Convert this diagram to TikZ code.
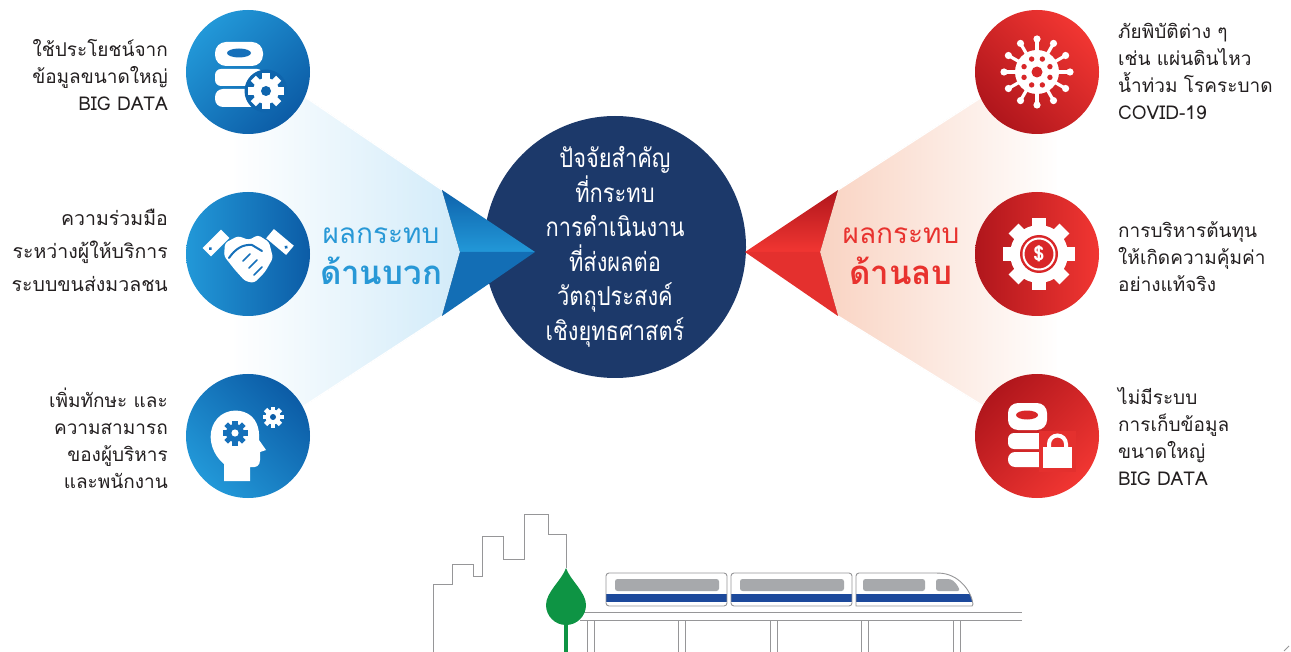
\documentclass[tikz,border=0pt]{standalone}
\usepackage{fontspec}
\setmainfont{Loma}[Script=Thai]
\newfontfamily\hubfont{Loma}[Script=Thai, FakeStretch=0.84]
\definecolor{navy}{RGB}{28,57,106}
\definecolor{blueA}{RGB}{34,152,216}
\definecolor{blueB}{RGB}{12,92,166}
\definecolor{blueHole}{RGB}{22,112,186}
\definecolor{redA}{RGB}{241,54,50}
\definecolor{redB}{RGB}{176,22,28}
\definecolor{redHole}{RGB}{216,38,40}
\definecolor{ink}{RGB}{35,31,32}
\definecolor{paleBlue}{RGB}{210,235,249}
\definecolor{paleRed}{RGB}{249,211,194}
\definecolor{tagBlue}{RGB}{40,152,214}
\definecolor{tagRed}{RGB}{232,50,46}
\definecolor{railGray}{RGB}{150,150,152}
\definecolor{winGray}{RGB}{167,169,172}
\definecolor{stripe}{RGB}{28,73,155}
\definecolor{leaf}{RGB}{14,148,68}
\tikzset{
  icon/.style={circle, minimum size=124pt, inner sep=0pt},
  blueicon/.style={icon, left color=blueA, right color=blueB, shading angle=#1},
  redicon/.style={icon, left color=redB, right color=redA, shading angle=#1},
  side/.style={font=\fontsize{19}{27}\selectfont, text=ink, inner sep=0pt},
  sideL/.style={side, anchor=east, align=right},
  sideR/.style={side, anchor=west, align=left},
  tag/.style={inner sep=0pt, font=\fontsize{28}{30}\selectfont},
  tagbold/.style={inner sep=0pt, font=\fontsize{33}{35}\selectfont\bfseries},
  rail/.style={draw=railGray, line width=0.9pt},
  seam/.style={draw=white, line width=1.3pt},
  pics/cog/.style n args={4}{code={
    \fill (0,0) circle (#2);
    \foreach \k in {1,...,#1}{\fill[rotate=\k*360/#1] (-#4,0) rectangle (#4,#3);}
  }}
}
\begin{document}
\begin{tikzpicture}[x=1pt,y=-1pt]
\useasboundingbox (0,0) rectangle (1291,652);

% pale funnels behind the arrow heads
\fill[left color=white, middle color=paleBlue!55!white, right color=paleBlue]
  (230,46) -- (442,190) -- (460,252) -- (442,316) -- (230,454) -- cycle;
\fill[left color=paleRed, middle color=paleRed!55!white, right color=white]
  (838,190) -- (1061,46) -- (1061,454) -- (838,316) -- (820,252) -- cycle;
% soften the outer edges of the funnels
\path[seam] (230,46) -- (442,190) (442,316) -- (230,454);
\path[seam] (838,190) -- (1061,46) (838,316) -- (1061,454);
% the faded ends of the funnels sit under the icon columns
\fill[white] (180,20) rectangle (234,480);
\fill[white] (1057,20) rectangle (1110,480);

% central hub
\node[circle, fill=navy, minimum size=262pt, inner sep=0pt] (hub) at (615,247) {};
\node[font=\hubfont\fontsize{26}{34.5}\selectfont, text=white, align=center, inner sep=0pt]
  (hubtext) at (615,247) {ปัจจัยสำคัญ\\ที่กระทบ\\การดำเนินงาน\\ที่ส่งผลต่อ\\วัตถุประสงค์\\เชิงยุทธศาสตร์};

% arrow heads
\shade[top color=blueB!90!blueA, bottom color=blueA] (442,190) -- (535,252) -- (460,252) -- cycle;
\fill[blueB!70!blueA] (460,252) -- (535,252) -- (442,316) -- cycle;
\shade[top color=redB, bottom color=redA] (838,190) -- (745,252) -- (820,252) -- cycle;
\fill[redA!80!redB] (820,252) -- (745,252) -- (838,316) -- cycle;

% tags
\node[tag, text=tagBlue] (posA) at (381,236) {ผลกระทบ};
\node[tagbold, text=tagBlue] (posB) at (381,271) {ด้านบวก};
\node[tag, text=tagRed] (negA) at (901,236) {ผลกระทบ};
\node[tagbold, text=tagRed] (negB) at (901,271) {ด้านลบ};

% icon discs
\node[blueicon=45] (b1) at (248,72) {};
\node[blueicon=90] (b2) at (248,254) {};
\node[blueicon=135] (b3) at (248,436) {};
\node[redicon=135] (r1) at (1037,72) {};
\node[redicon=90] (r2) at (1037,254) {};
\node[redicon=45] (r3) at (1037,436) {};

% --- database with cog
\fill[white, rounded corners=11] (215,42) rectangle (263,66);
\fill[blueHole] (239,53) ellipse (12 and 4.5);
\fill[white, rounded corners=6] (215,69) rectangle (263,86);
\fill[white, rounded corners=8] (215,89) rectangle (263,107);
\fill[blueB!85!blueA] (266,91) circle (21.5);
\pic[fill=white] at (266,91) {cog={8}{13}{18}{3.6}};
\fill[blueB!85!blueA] (266,91) circle (5);

% --- handshake
\fill[white, shift={(216,243)}, rotate=45] (-13,-6) rectangle (13,6);
\fill[blueHole, shift={(216,243)}, rotate=45] (-8,0) circle (1.9);
\fill[white, shift={(280,242)}, rotate=-40] (-13,-6) rectangle (13,6);
\fill[blueHole, shift={(280,242)}, rotate=-40] (8,0) circle (1.9);
\fill[white, rounded corners=3]
  (225,243) -- (238,236) -- (249,240) -- (258,235) -- (269,242) -- (273,258)
  -- (265,272) -- (254,283) -- (245,281) -- (235,270) -- (224,256) -- cycle;
\draw[blueHole, line width=2pt, line cap=round]
  (229,258) .. controls (235,249) and (243,244) .. (252,245) -- (262,251);
\draw[blueHole, line width=1.5pt, line cap=round]
  (249,268) -- (257,260) (254,275) -- (262,267) (243,261) -- (250,254);

% --- head with cogs
\fill[white] (224,481) -- (224,464) .. controls (213,455) and (208,440) .. (212,428)
  .. controls (217,412) and (233,408) .. (244,412) .. controls (256,416) and (260,428) .. (259,440)
  -- (266,450) -- (260,452) -- (260,460) .. controls (260,466) and (256,468) .. (250,467)
  -- (250,481) -- cycle;
\pic[fill=blueHole] at (235,433) {cog={8}{9}{12.5}{2.6}};
\fill[white] (235,433) circle (3.6);
\pic[fill=white] at (273,417) {cog={8}{7.5}{10.5}{2.3}};
\fill[blueB] (273,417) circle (3);

% --- virus
\fill[white] (1037,72) circle (22);
\foreach \a in {0,30,...,330}{
  \draw[white, line width=3.2pt] (1037,72) ++(\a:20) -- ++(\a:13);
  \fill[white] (1037,72) ++(\a:33) circle (3.6);
}
\fill[redHole] (1037,72) circle (5.5);
\foreach \a in {22.5,67.5,...,337.5}{
  \fill[redHole] (1037,72) ++(\a:14) circle (2.7);
}

% --- cog with dollar
\pic[fill=white] at (1039,254) {cog={8}{29}{36}{7}};
\fill[redHole] (1039,254) circle (19);
\draw[white, line width=2pt] (1039,254) circle (15.5);
\node[text=white, font=\fontsize{20}{20}\selectfont\bfseries, inner sep=0pt] (cash) at (1039,254) {\$};

% --- database with lock
\fill[white, rounded corners=10] (1008,403) rectangle (1047,430);
\fill[redHole] (1027,415) ellipse (11 and 4.5);
\fill[white, rounded corners=6] (1008,433) rectangle (1047,449);
\fill[white, rounded corners=7] (1008,452) rectangle (1047,467);
\fill[redA!80!redB] (1039,431) rectangle (1076,472);
\draw[white, line width=4pt] (1049,448) -- (1049,444) arc[start angle=180, end angle=360, radius=8.5] -- (1066,448);
\fill[white] (1043,447) rectangle (1072,468);

% side texts
\node[sideL] (t1) at (168,75) {ใช้ประโยชน์จาก\\ข้อมูลขนาดใหญ่\\BIG DATA};
\node[sideL, font=\fontsize{19.5}{33}\selectfont] (t2) at (168,250) {ความร่วมมือ\\ระหว่างผู้ให้บริการ\\ระบบขนส่งมวลชน};
\node[sideL] (t3) at (168,438) {เพิ่มทักษะ และ\\ความสามารถ\\ของผู้บริหาร\\และพนักงาน};
\node[sideR] (t4) at (1118,71) {ภัยพิบัติต่าง ๆ\\เช่น แผ่นดินไหว\\น้ำท่วม โรคระบาด\\COVID-19};
\node[sideR] (t5) at (1118,257) {การบริหารต้นทุน\\ให้เกิดความคุ้มค่า\\อย่างแท้จริง};
\node[sideR] (t6) at (1118,437) {ไม่มีระบบ\\การเก็บข้อมูล\\ขนาดใหญ่\\BIG DATA};

% skyline
\draw[rail] (433,652) -- (433,584) -- (452,584) -- (452,564) -- (473,564) -- (473,576)
  -- (482,576) -- (482,536) -- (503,536) -- (503,559) -- (524,559) -- (524,514)
  -- (548,514) -- (548,534) -- (566,534) -- (566,568);

% viaduct
\draw[rail] (580,612) -- (1022,612) (580,620) -- (1022,620);
\foreach \p in {587,678.5,770,861.5,953}{
  \draw[rail] (\p,620) -- (\p,652) (\p+7,620) -- (\p+7,652);
}

% tree
\fill[leaf] (566,568) .. controls (570,580) and (586,592) .. (586,605)
  arc[start angle=0, end angle=180, radius=20] .. controls (546,592) and (562,580) .. (566,568) -- cycle;
\draw[leaf, line width=4pt] (566,622) -- (566,652);

% train
\foreach \l/\r in {606/727,731/852}{
  \fill[white, rounded corners=3] (\l,573) rectangle (\r,606);
  \fill[winGray, rounded corners=2.5] (\l+9,579) rectangle (\r-8,591);
  \fill[stripe] (\l,594) rectangle (\r,602);
  \draw[rail, rounded corners=3] (\l,573) rectangle (\r,606);
}
\fill[white, rounded corners=3] (856,606) -- (856,573) -- (937,573) [sharp corners]
  .. controls (958,574) and (971,590) .. (973,604) -- (972,606) -- cycle;
\fill[winGray, rounded corners=2.5] (863,579) rectangle (925,591);
\fill[winGray, rounded corners=2.5] (936,579) -- (948,579) .. controls (954,580) and (958,586) .. (960,591) -- (936,591) -- cycle;
\begin{scope}
  \clip (856,606) -- (856,573) -- (937,573) .. controls (958,574) and (971,590) .. (973,604) -- (972,606) -- cycle;
  \fill[stripe] (856,594) rectangle (980,602);
\end{scope}
\draw[rail, rounded corners=3] (856,606) -- (856,573) -- (937,573) [sharp corners]
  .. controls (958,574) and (971,590) .. (973,604) -- (972,606) -- cycle;

% corner tick
\draw[railGray, line width=0.8pt] (1284,651) -- (1289,646);
\end{tikzpicture}
\end{document}
